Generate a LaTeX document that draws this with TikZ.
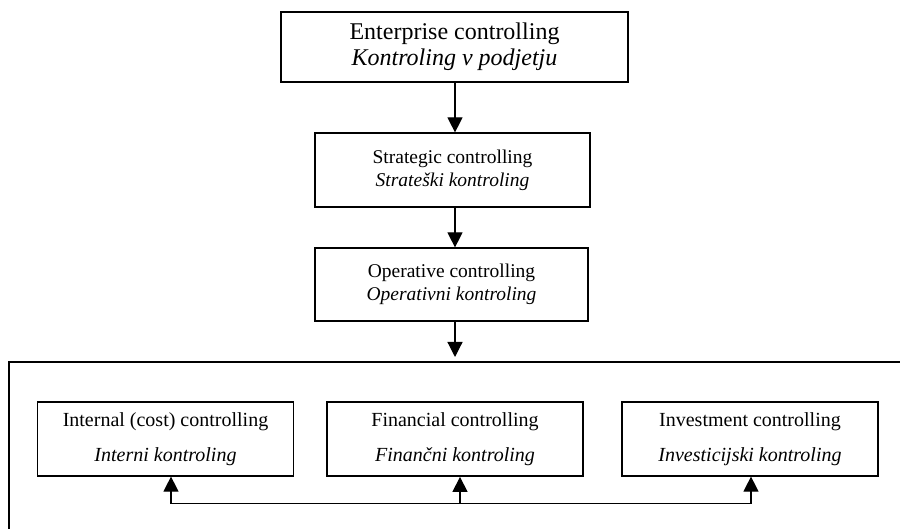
\documentclass[tikz,border=0pt]{standalone}
\usepackage{fontspec}
\setmainfont{Liberation Serif}
\usetikzlibrary{arrows.meta}
\begin{document}
\begin{tikzpicture}[x=1pt,y=-1pt,
    box/.style={draw, line width=1.2pt, inner sep=0pt, align=center,
        font=\fontsize{19.5}{23}\selectfont},
    subbox/.style={box, minimum width=256pt, minimum height=74pt,
        font=\fontsize{20}{35}\selectfont},
    arr/.style={line width=1.2pt, -{Triangle[width=15pt,length=15pt]}}]

    \useasboundingbox (0,0) rectangle (900,529);

    % Draw the chain of boxes at the top
    \node[box, minimum width=347pt, minimum height=70pt,
        font=\fontsize{24}{26}\selectfont] (ent) at (454.5,47)
        {Enterprise controlling\\\textit{Kontroling v podjetju}};
    \node[box, minimum width=275pt, minimum height=74pt] (str) at (452.5,170)
        {Strategic controlling\\\textit{Strateški kontroling}};
    \node[box, minimum width=273pt, minimum height=73pt] (ope) at (451.5,284.5)
        {Operative controlling\\\textit{Operativni kontroling}};

    % Draw the open frame round the lower part
    \coordinate (fr) at (9,362);
    \draw[line width=1.2pt] (900,362) -- (fr) -- (9,529);

    % Draw the three boxes inside the frame
    \node[subbox] (int) at (165.5,439)
        {Internal (cost) controlling\\\textit{Interni kontroling}};
    \node[subbox, line width=1.8pt] (fin) at (455,439)
        {Financial controlling\\\textit{Finančni kontroling}};
    \node[subbox] (inv) at (750,439)
        {Investment controlling\\\textit{Investicijski kontroling}};

    % Draw the arrows down the middle
    \coordinate (ax) at (455,357);
    \draw[arr] (ax |- ent.south) -- (ax |- str.north);
    \draw[arr] (ax |- str.south) -- (ax |- ope.north);
    \draw[arr] (ax |- ope.south) -- (ax);

    % Draw the line under the boxes and the arrows up
    \coordinate (b1) at (171,503.5);
    \coordinate (b2) at (460,503.5);
    \coordinate (b3) at (751,503.5);
    \draw[line width=1.2pt] (b1) -- (b3);
    \draw[arr] (b1) -- (b1 |- int.south);
    \draw[arr] (b2) -- (b2 |- fin.south);
    \draw[arr] (b3) -- (b3 |- inv.south);

\end{tikzpicture}
\end{document}
